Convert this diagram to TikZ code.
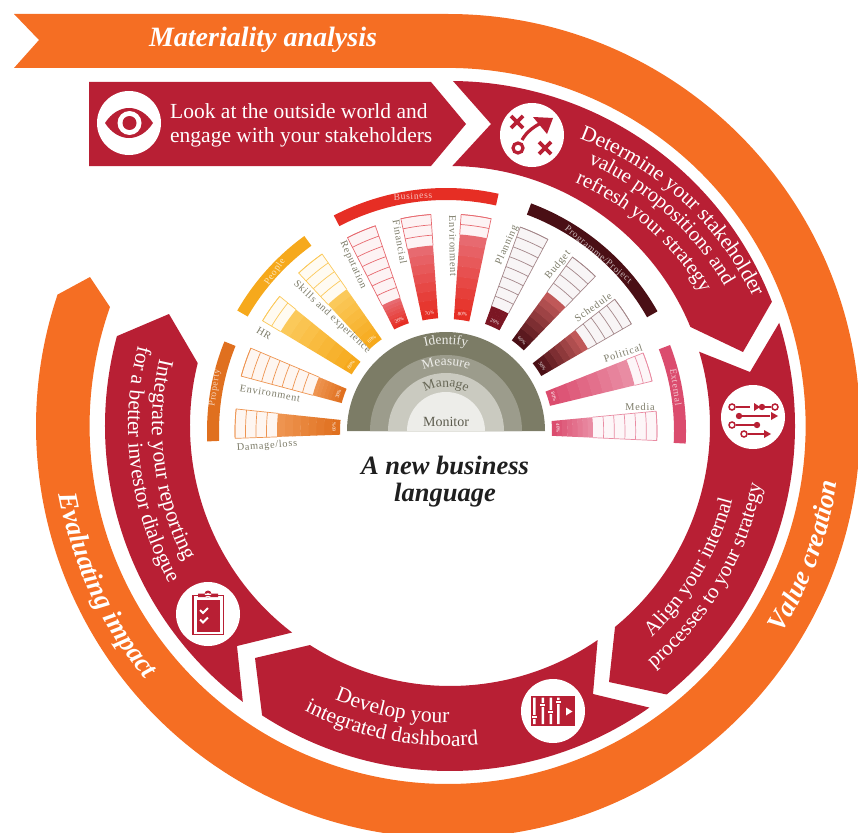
\documentclass[tikz,border=0pt]{standalone}
\usepackage{fontspec}
\setmainfont{Liberation Serif}
\newfontfamily\lblfont[LetterSpace=7]{Liberation Serif}
\usetikzlibrary{calc,decorations.text}
\definecolor{crim}{HTML}{B81F34}
\definecolor{orng}{HTML}{F56E23}
\definecolor{lblc}{HTML}{7C7B68}
\definecolor{bandA}{HTML}{7C7C66}
\definecolor{bandB}{HTML}{9C9C8C}
\definecolor{bandC}{HTML}{CACAC0}
\definecolor{bandD}{HTML}{EDEDE9}
\definecolor{prop}{HTML}{E0701F}
\definecolor{propL}{HTML}{EE9450}
\definecolor{peop}{HTML}{F6A91C}
\definecolor{peopL}{HTML}{FBC95A}
\definecolor{busi}{HTML}{E62E24}
\definecolor{busiL}{HTML}{E76A70}
\definecolor{wine}{HTML}{4A0F15}
\definecolor{wineL}{HTML}{C05858}
\definecolor{rose}{HTML}{DB4C6E}
\definecolor{roseL}{HTML}{E98CA3}
\newcommand\fsz[1]{\fontsize{#1}{#1}\selectfont}
\newcommand\arctext[6]{\path[decorate,decoration={text along path,text align=center,text={|#5|#6}}] ($(#1)+(#3:#2)$) arc (#3:#4:#2);}
% angle, r1, rfill, r2, cells, inner colour, outer colour, line colour, pct
\newcommand\fanbar[9]{%
 \begin{scope}[shift={(F)}]
 \pgfmathsetmacro\aL{#1+4}\pgfmathsetmacro\aR{#1-4}
 \fill[#8!8!white] (\aR:#3) -- (\aR:#4) arc (\aR:\aL:#4) -- (\aL:#3) arc (\aL:\aR:#3) -- cycle;
 \foreach \i in {0,...,7}{%
  \pgfmathsetmacro\ra{#2+(#3-#2)*\i/8}\pgfmathsetmacro\rb{#2+(#3-#2)*(\i+1)/8+(\i<7?0.4:0)}\pgfmathsetmacro\pp{100-\i*100/7}
  \fill[#6!\pp!#7] (\aR:\ra) -- (\aR:\rb) arc (\aR:\aL:\rb) -- (\aL:\ra) arc (\aL:\aR:\ra) -- cycle;}
 \foreach \i in {1,...,#5}{%
  \pgfmathsetmacro\rc{#3+(#4-#3)*\i/#5}
  \draw[#8,barline] (\aR:\rc) arc (\aR:\aL:\rc);}
 \draw[#8,barline] (\aR:#3) -- (\aR:#4) arc (\aR:\aL:#4) -- (\aL:#3);
 \pgfmathsetmacro\rt{#2+6}\pgfmathsetmacro\rr{#1-90}
 \node[pctlabel,rotate=\rr] (pct#1) at (#1:\rt) {#9};
 \end{scope}}
\newcommand\catband[5]{\fill[#1] ($(F)+(#4:#3)$) arc (#4:#5:#3) -- ($(F)+(#5:#2)$) arc (#5:#4:#2) -- cycle;}
\tikzset{
 x=1pt,y=1pt,
 barline/.style={line width=0.7pt},
 pctlabel/.style={text=white,font=\fsz{5},inner sep=0pt},
 barlabel/.style={text=lblc,font=\lblfont\fsz{10.3},inner sep=0pt},
 catlabel/.style={text=white,font=\lblfont\fsz{9.5},inner sep=0pt,opacity=.7},
 iconline/.style={crim,line width=2.4pt},
 icondisc/.style={fill=white,circle,minimum size=64pt,inner sep=0pt},
}
\begin{document}
\begin{tikzpicture}
\clip (0,0) rectangle (858,-832);
\coordinate (C) at (450,-426);
\coordinate (O) at (448,-426);
\coordinate (F) at (446,-431);
\coordinate (T) at (468,-434);
% orange band
\fill[orng] (14,-14) -- (448,-14) arc (90:-198.6:412) -- (90,-277) -- (110,-307) arc (-199.4:90:358) -- (14,-68) -- (39,-40) -- cycle;
% crimson segments
\fill[crim] (89,-82) -- (431,-82) -- (466,-124) -- (431,-166) -- (89,-166) -- cycle;
\fill[crim] ($(C)+(89.5:345)$) arc (89.5:21.1:345) -- (743,-352) -- ($(C)+(22.4:260)$) arc (22.4:89.5:260) -- (491,-124) -- cycle;
\fill[crim] ($(C)+(17.4:345)$) arc (17.4:-51.1:345) -- (609,-682) -- ($(C)+(-50.6:260)$) arc (-50.6:16.6:260) -- (750,-372) -- cycle;
\fill[crim] ($(C)+(-54.7:345)$) arc (-54.7:-123:345) -- (255,-658) -- ($(C)+(-122.6:260)$) arc (-122.6:-55.4:260) -- (593,-694) -- cycle;
\fill[crim] ($(C)+(233.1:345)$) arc (233.1:164.9:345) -- (169,-314) -- ($(C)+(166:260)$) arc (166:232.6:260) -- (237,-646) -- cycle;
% orange labels
\node[text=white,font=\bfseries\itshape\fsz{28},inner sep=0pt] (mat) at (263,-40) {Materiality analysis};
\arctext{O}{393}{-50}{10}{\bfseries\itshape\fsz{26.8}\color{white}}{Value creation}
\arctext{O}{395}{175}{235}{\bfseries\itshape\fsz{27.2}\color{white}}{Evaluating impact}
% crimson texts
\node[text=white,font=\fsz{21.5},align=left,anchor=west,inner sep=0pt] (look) at (170,-125.5) {Look at the outside world and\\[2.5pt]engage with your stakeholders};
\arctext{T}{316}{77.5}{17.5}{\fsz{21.6}\color{white}}{Determine your stakeholder}
\arctext{T}{296}{78}{18}{\fsz{20.6}\color{white}}{value propositions and}
\arctext{T}{273}{79}{19}{\fsz{20.6}\color{white}}{refresh your strategy}
\arctext{C}{292}{-60.5}{-0.5}{\fsz{21}\color{white}}{Align your internal}
\arctext{C}{317}{-60.3}{-0.3}{\fsz{21}\color{white}}{processes to your strategy}
\arctext{C}{297}{228.5}{288.5}{\fsz{21.5}\color{white}}{Develop your}
\arctext{C}{320}{229}{289}{\fsz{21.5}\color{white}}{integrated dashboard}
\arctext{C}{298}{157}{217}{\fsz{21.8}\color{white}}{Integrate your reporting}
\arctext{C}{322}{157.4}{217.4}{\fsz{21.3}\color{white}}{for a better investor dialogue}
% icon discs
\node[icondisc] (eye) at (129,-123) {};
\node[icondisc] (plan) at (532,-135) {};
\node[icondisc] (sliders) at (753,-417) {};
\node[icondisc] (dash) at (553,-711) {};
\node[icondisc] (clip) at (208,-614) {};
% eye
\fill[crim] (105,-123) .. controls (118,-103) and (140,-103) .. (153,-123) .. controls (140,-143) and (118,-143) .. (105,-123) -- cycle;
\fill[white] (129.5,-123) circle (12);
\fill[crim] (129.5,-123) circle (7);
% strategy
\draw[iconline,line width=3.8pt] (511,-116) -- (523,-128) (523,-116) -- (511,-128);
\draw[iconline,line width=3.8pt] (539,-142) -- (551,-154) (551,-142) -- (539,-154);
\draw[iconline,line width=3.2pt] (518,-148) circle (5);
\draw[iconline,line width=3.2pt] (522,-140) .. controls (527,-131) and (535,-126) .. (543,-122);
\fill[crim] (553,-118) -- (533,-117) -- (547,-134) -- cycle;
% sliders
\draw[iconline,line width=1.6pt] (736,-407) -- (750,-407) (762,-407) -- (771,-407) (739,-416) -- (770,-416) (736,-425) -- (757,-425) (748,-434) -- (764,-434);
\draw[iconline,line width=1.5pt,fill=white] (732,-407) circle (3) (775,-407) circle (3) (732,-425) circle (3) (744,-434) circle (3);
\fill[crim] (762,-407) circle (3.2) (739,-416) circle (3.2) (757,-425) circle (3.2);
\fill[crim] (754,-403) -- (754,-411) -- (760,-407) -- cycle (771,-412) -- (771,-420) -- (778,-416) -- cycle (764,-430) -- (764,-438) -- (771,-434) -- cycle;
% dashboard
\fill[crim] (531,-696) rectangle (575,-725.5);
\fill[white] (533,-697.5) rectangle (535.5,-724) (541.5,-697.5) rectangle (544,-724) (549.5,-697.5) rectangle (552,-724) (557,-697.5) rectangle (559.5,-724);
\fill[white,draw=crim,line width=.7pt] (531.2,-715.5) rectangle (537.3,-718.5) (539.7,-703.5) rectangle (545.8,-706.5) (547.7,-710.5) rectangle (553.8,-713.5) (555.2,-700.5) rectangle (561.3,-703.5);
\fill[white] (566,-707.5) -- (566,-715.5) -- (572.5,-711.5) -- cycle;
% clipboard
\draw[crim,line width=1.8pt] (193,-595.5) rectangle (223.5,-634.5);
\fill[crim] (196.5,-600) rectangle (220,-631.5);
\fill[crim] (198,-597) rectangle (218,-593.5) (208,-594) circle (3.5);
\fill[white] (208,-594) circle (1.2);
\draw[white,line width=1.8pt] (200,-610) -- (203,-613) -- (208,-608) (200,-619.5) -- (203,-622.5) -- (208,-617.5);
% semicircle
\fill[bandA] ($(F)+(0:99)$) arc (0:180:99) -- cycle;
\fill[bandB] ($(F)+(0:76)$) arc (0:180:76) -- cycle;
\fill[bandC] ($(F)+(0:58)$) arc (0:180:58) -- cycle;
\fill[bandD] ($(F)+(0:39)$) arc (0:180:39) -- cycle;
\arctext{F}{87}{130}{50}{\fsz{13.5}\color{bandD}}{Identify}
\arctext{F}{65.5}{140}{40}{\fsz{13.5}\color{bandD}}{Measure}
\arctext{F}{44}{150}{30}{\fsz{13.5}\color{lblc!85!black}}{Manage}
\node[text=lblc!75!black,font=\fsz{14},inner sep=0pt] (mon) at (446,-422) {Monitor};
% bars
\fanbar{178}{106}{169}{211}{4}{prop}{propL}{propL}{60\%}
\fanbar{161}{108}{138}{212}{7}{prop}{propL}{propL}{30\%}
\fanbar{145}{110}{193}{214}{2}{peop}{peopL}{peopL}{80\%}
\fanbar{129}{112}{173}{216}{4}{peop}{peopL}{peopL}{60\%}
\fanbar{113}{114}{141}{217}{7}{busi}{busiL}{busiL}{20\%}
\fanbar{98}{113}{186}{217}{3}{busi}{busiL}{busiL}{70\%}
\fanbar{82}{112}{197}{217}{2}{busi}{busiL}{busiL}{80\%}
\fanbar{66}{114}{133}{217}{8}{wine}{wine!55!crim}{wine!50!white}{20\%}
\fanbar{50}{112}{172}{215}{4}{wine}{wineL}{wine!50!white}{60\%}
\fanbar{34}{110}{164}{214}{5}{wine}{wineL}{wine!50!white}{50\%}
\fanbar{17.6}{107}{194}{212}{2}{rose}{roseL}{roseL}{80\%}
\fanbar{1.4}{106}{147}{211}{6}{rose}{roseL}{roseL}{40\%}
% category bands
\catband{prop}{227}{239}{182.5}{158}
\catband{peop}{229}{241}{150}{126}
\catband{busi}{231}{243}{117.5}{77.5}
\catband{wine}{231}{243}{69.5}{29.5}
\catband{rose}{228}{240}{21}{-3}
\node[catlabel,rotate=82] (cp) at (215,-388) {Property};
\node[catlabel,rotate=55] (cq) at (275,-272) {People};
\node[catlabel,rotate=3] (cb) at (413,-196) {Business};
\node[catlabel,rotate=-40] (cg) at (598,-255) {Programme/Project};
\node[catlabel,rotate=-82] (ce) at (676,-387) {External};
% bar labels
\node[barlabel,rotate=4] (l1) at (267,-446) {Damage/loss};
\node[barlabel,rotate=-10] (l2) at (270,-393) {Environment};
\node[barlabel,rotate=-30] (l3) at (264,-333) {HR};
\node[barlabel,rotate=-43] (l4) at (332,-317) {Skills and experience};
\node[barlabel,rotate=-66] (l5) at (353,-265) {Reputation};
\node[barlabel,rotate=-80] (l6) at (400,-242) {Financial};
\node[barlabel,rotate=-89] (l7) at (453,-246) {Environment};
\node[barlabel,rotate=66] (l8) at (507,-245) {Planning};
\node[barlabel,rotate=50] (l9) at (558,-265) {Budget};
\node[barlabel,rotate=35] (l10) at (593,-307) {Schedule};
\node[barlabel,rotate=18] (l11) at (623,-353) {Political};
\node[barlabel,rotate=1] (l12) at (640,-407) {Media};
% centre title
\node[text=black!88,font=\bfseries\itshape\fsz{26.5},align=center,inner sep=0pt] (title) at (445,-482) {A new business\\[0.5pt]language};
\end{tikzpicture}
\end{document}
